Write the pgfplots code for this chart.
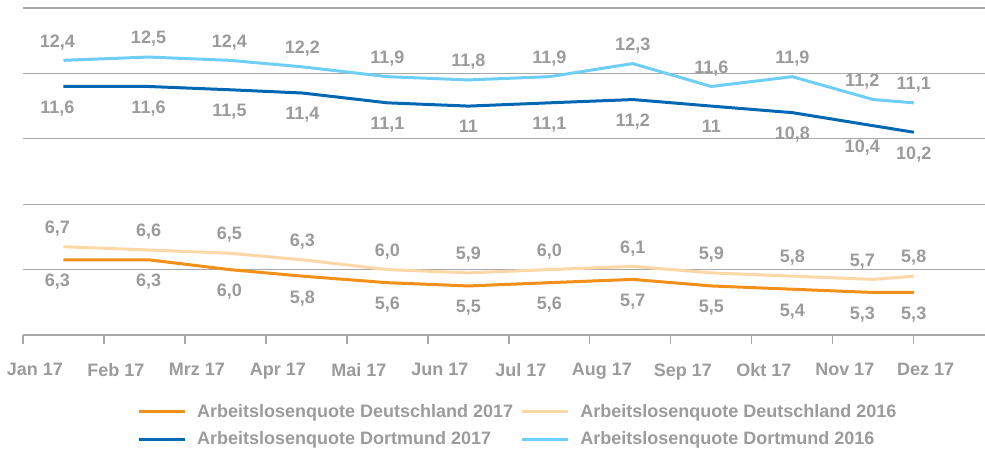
\documentclass[border=0pt]{standalone}
\usepackage{pgfplots}
\pgfplotsset{compat=1.18}
\usepackage{fontspec}
\setmainfont{Liberation Sans}

\definecolor{txtgray}{HTML}{9B9B9B}
\definecolor{gridgray}{HTML}{A8A8A8}
\definecolor{deOrange}{HTML}{F39019}
\definecolor{dePeach}{HTML}{FDD8A6}
\definecolor{doBlue}{HTML}{0068B3}
\definecolor{doLight}{HTML}{6DCFF6}

\newcommand{\lbl}{\fontsize{18bp}{21bp}\selectfont\bfseries}

\begin{document}
\begin{tikzpicture}
\begin{axis}[
  scale only axis,
  width=962bp, height=327bp,
  xmin=-0.5, xmax=11.38,
  ymin=4, ymax=14,
  clip=false,
  axis line style={draw=none},
  ytick={4,6,...,14},
  yticklabels={},
  ymajorgrids,
  grid style={gridgray, line width=1.3bp},
  y tick style={draw=none},
  xtick={-0.5,0.5,...,10.5},
  xticklabels={Jan 17,Feb 17,Mrz 17,Apr 17,Mai 17,Jun 17,Jul 17,Aug 17,Sep 17,Okt 17,Nov 17,Dez 17},
  xtick pos=bottom,
  tick align=outside,
  major tick length=9bp,
  x tick style={gridgray, line width=1.3bp},
  xticklabel style={font=\lbl, text=txtgray, anchor=north, xshift=12bp, yshift=-16bp},
  no markers,
  point meta=explicit symbolic,
  nodes near coords,
  nodes near coords style={font=\lbl, text=txtgray, inner sep=0pt},
  coordinate style/.condition={\coordindex==0}{xshift=-6bp},
  coordinate style/.condition={\coordindex==10}{xshift=-11bp},
  legend columns=2,
  legend cell align=left,
  legend style={draw=none, fill=none, font=\lbl, text=txtgray,
    at={(0.1185,-0.205)}, anchor=north west,
    inner sep=0pt,
    /tikz/every odd column/.append style={column sep=9bp},
    /tikz/every even column/.append style={column sep=5bp},
    row sep=9bp},
  legend image code/.code={\draw[#1, line width=3bp] (0bp,0bp) -- (46bp,0bp);},
]
% Deutschland 2017
\addplot[deOrange, line width=3bp,
  every node near coord/.append style={anchor=north, yshift=-13bp}] coordinates {
(0,6.3)[6,3] (1.05,6.3)[6,3] (2.05,6.0)[6,0] (2.95,5.8)[5,8] (4,5.6)[5,6] (5,5.5)[5,5]
(6,5.6)[5,6] (7.03,5.7)[5,7] (8,5.5)[5,5] (9,5.4)[5,4] (10,5.3)[5,3] (10.5,5.3)[5,3]
};
\addlegendentry{Arbeitslosenquote Deutschland 2017}
% Deutschland 2016
\addplot[dePeach, line width=3bp,
  every node near coord/.append style={anchor=south, yshift=9bp}] coordinates {
(0,6.7)[6,7] (1.05,6.6)[6,6] (2.05,6.5)[6,5] (2.95,6.3)[6,3] (4,6.0)[6,0] (5,5.9)[5,9]
(6,6.0)[6,0] (7.03,6.1)[6,1] (8,5.9)[5,9] (9,5.8)[5,8] (10,5.7)[5,7] (10.5,5.8)[5,8]
};
\addlegendentry{Arbeitslosenquote Deutschland 2016}
% Dortmund 2017
\addplot[doBlue, line width=3bp,
  every node near coord/.append style={anchor=north, yshift=-13bp}] coordinates {
(0,11.6)[11,6] (1.05,11.6)[11,6] (2.05,11.5)[11,5] (2.95,11.4)[11,4] (4,11.1)[11,1] (5,11.0)[11]
(6,11.1)[11,1] (7.03,11.2)[11,2] (8,11.0)[11] (9,10.8)[10,8] (10,10.4)[10,4] (10.5,10.2)[10,2]
};
\addlegendentry{Arbeitslosenquote Dortmund 2017}
% Dortmund 2016
\addplot[doLight, line width=3bp,
  every node near coord/.append style={anchor=south, yshift=9bp}] coordinates {
(0,12.4)[12,4] (1.05,12.5)[12,5] (2.05,12.4)[12,4] (2.95,12.2)[12,2] (4,11.9)[11,9] (5,11.8)[11,8]
(6,11.9)[11,9] (7.03,12.3)[12,3] (8,11.6)[11,6] (9,11.9)[11,9] (10,11.2)[11,2] (10.5,11.1)[11,1]
};
\addlegendentry{Arbeitslosenquote Dortmund 2016}
\end{axis}
\pgfresetboundingbox
\path[use as bounding box] (-23bp,-115bp) rectangle (962bp,335bp);
\end{tikzpicture}
\end{document}
